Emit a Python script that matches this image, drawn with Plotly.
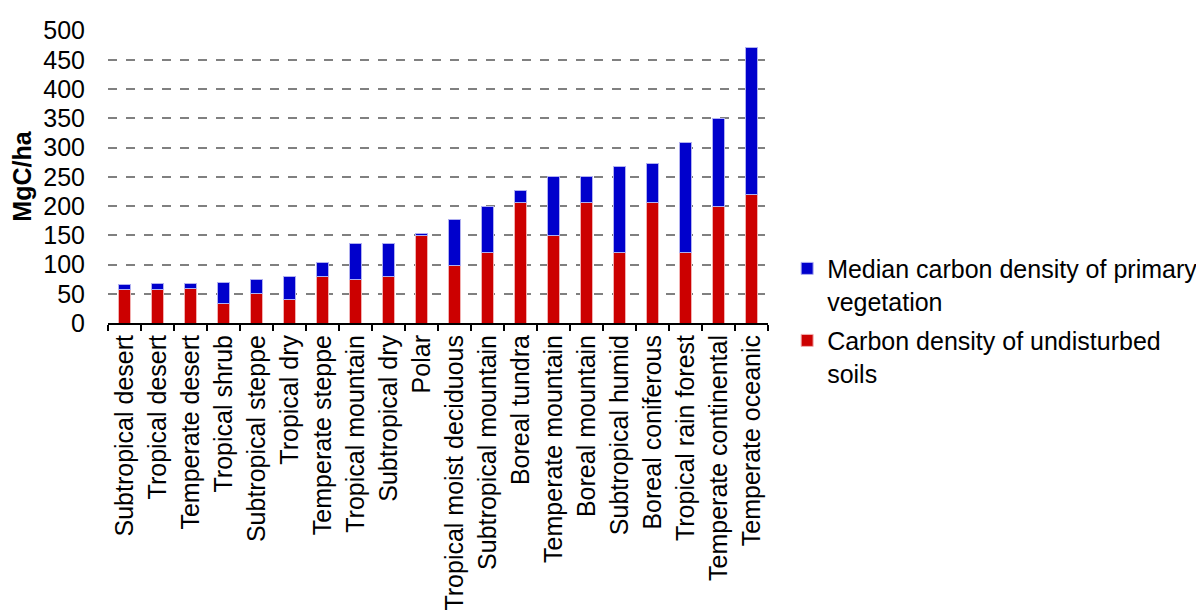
import plotly.graph_objects as go

categories = ["Subtropical desert", "Tropical desert", "Temperate desert", "Tropical shrub",
              "Subtropical steppe", "Tropical dry", "Temperate steppe", "Tropical mountain",
              "Subtropical dry", "Polar", "Tropical moist deciduous", "Subtropical mountain",
              "Boreal tundra", "Temperate mountain", "Boreal mountain", "Subtropical humid",
              "Boreal coniferous", "Tropical rain forest", "Temperate continental", "Temperate oceanic"]
soils = [58, 58, 59, 34, 50, 40, 79, 75, 79, 150, 99, 120, 206, 150, 206, 120, 206, 120, 200, 220]
totals = [65, 67, 67, 70, 75, 79, 104, 136, 136, 153, 177, 199, 226, 250, 251, 268, 272, 309, 349, 471]
vegetation = [t - s for t, s in zip(totals, soils)]

FONT = "Liberation Sans, Arial, sans-serif"

fig = go.Figure()
fig.add_trace(go.Bar(x=categories, y=soils, name="Carbon density of undisturbed<br>soils",
                     legendgroup="soil", legendrank=2,
                     marker=dict(color="#CC0000", line=dict(color="#F2B0B0", width=1)), width=0.39))
fig.add_trace(go.Bar(x=categories, y=vegetation, name="Median carbon density of primary<br>vegetation",
                     legendgroup="veg", legendrank=1,
                     marker=dict(color="#0000CC", line=dict(color="#B0B0F0", width=1)), width=0.39))

fig.update_layout(
    barmode="stack",
    width=1204, height=616,
    margin=dict(l=100, r=444, t=22, b=301, autoexpand=False),
    paper_bgcolor="white", plot_bgcolor="white",
    font=dict(family=FONT, size=25, color="black"),
    showlegend=True,
    legend=dict(x=1.029, y=0.008, xanchor="left", yanchor="middle", traceorder="grouped",
                valign="top", itemwidth=30, tracegroupgap=4,
                font=dict(family=FONT, size=25, color="black")),
    xaxis=dict(tickangle=-90, showline=True, linecolor="black", linewidth=2,
               ticks="outside", tickson="boundaries", ticklen=6, tickwidth=2, tickcolor="black",
               showgrid=False, tickfont=dict(size=25), automargin=False),
    yaxis=dict(range=[0, 501], tickvals=list(range(0, 501, 50)), showgrid=True,
               gridcolor="#808080", gridwidth=1.5,
               griddash="dash", zeroline=False, showline=False, ticks="",
               tickfont=dict(size=25), automargin=False, ticklabelstandoff=22,
               title=dict(text="<b>MgC/ha</b>", standoff=6, font=dict(size=25))),
)

fig.write_html("out.html")
